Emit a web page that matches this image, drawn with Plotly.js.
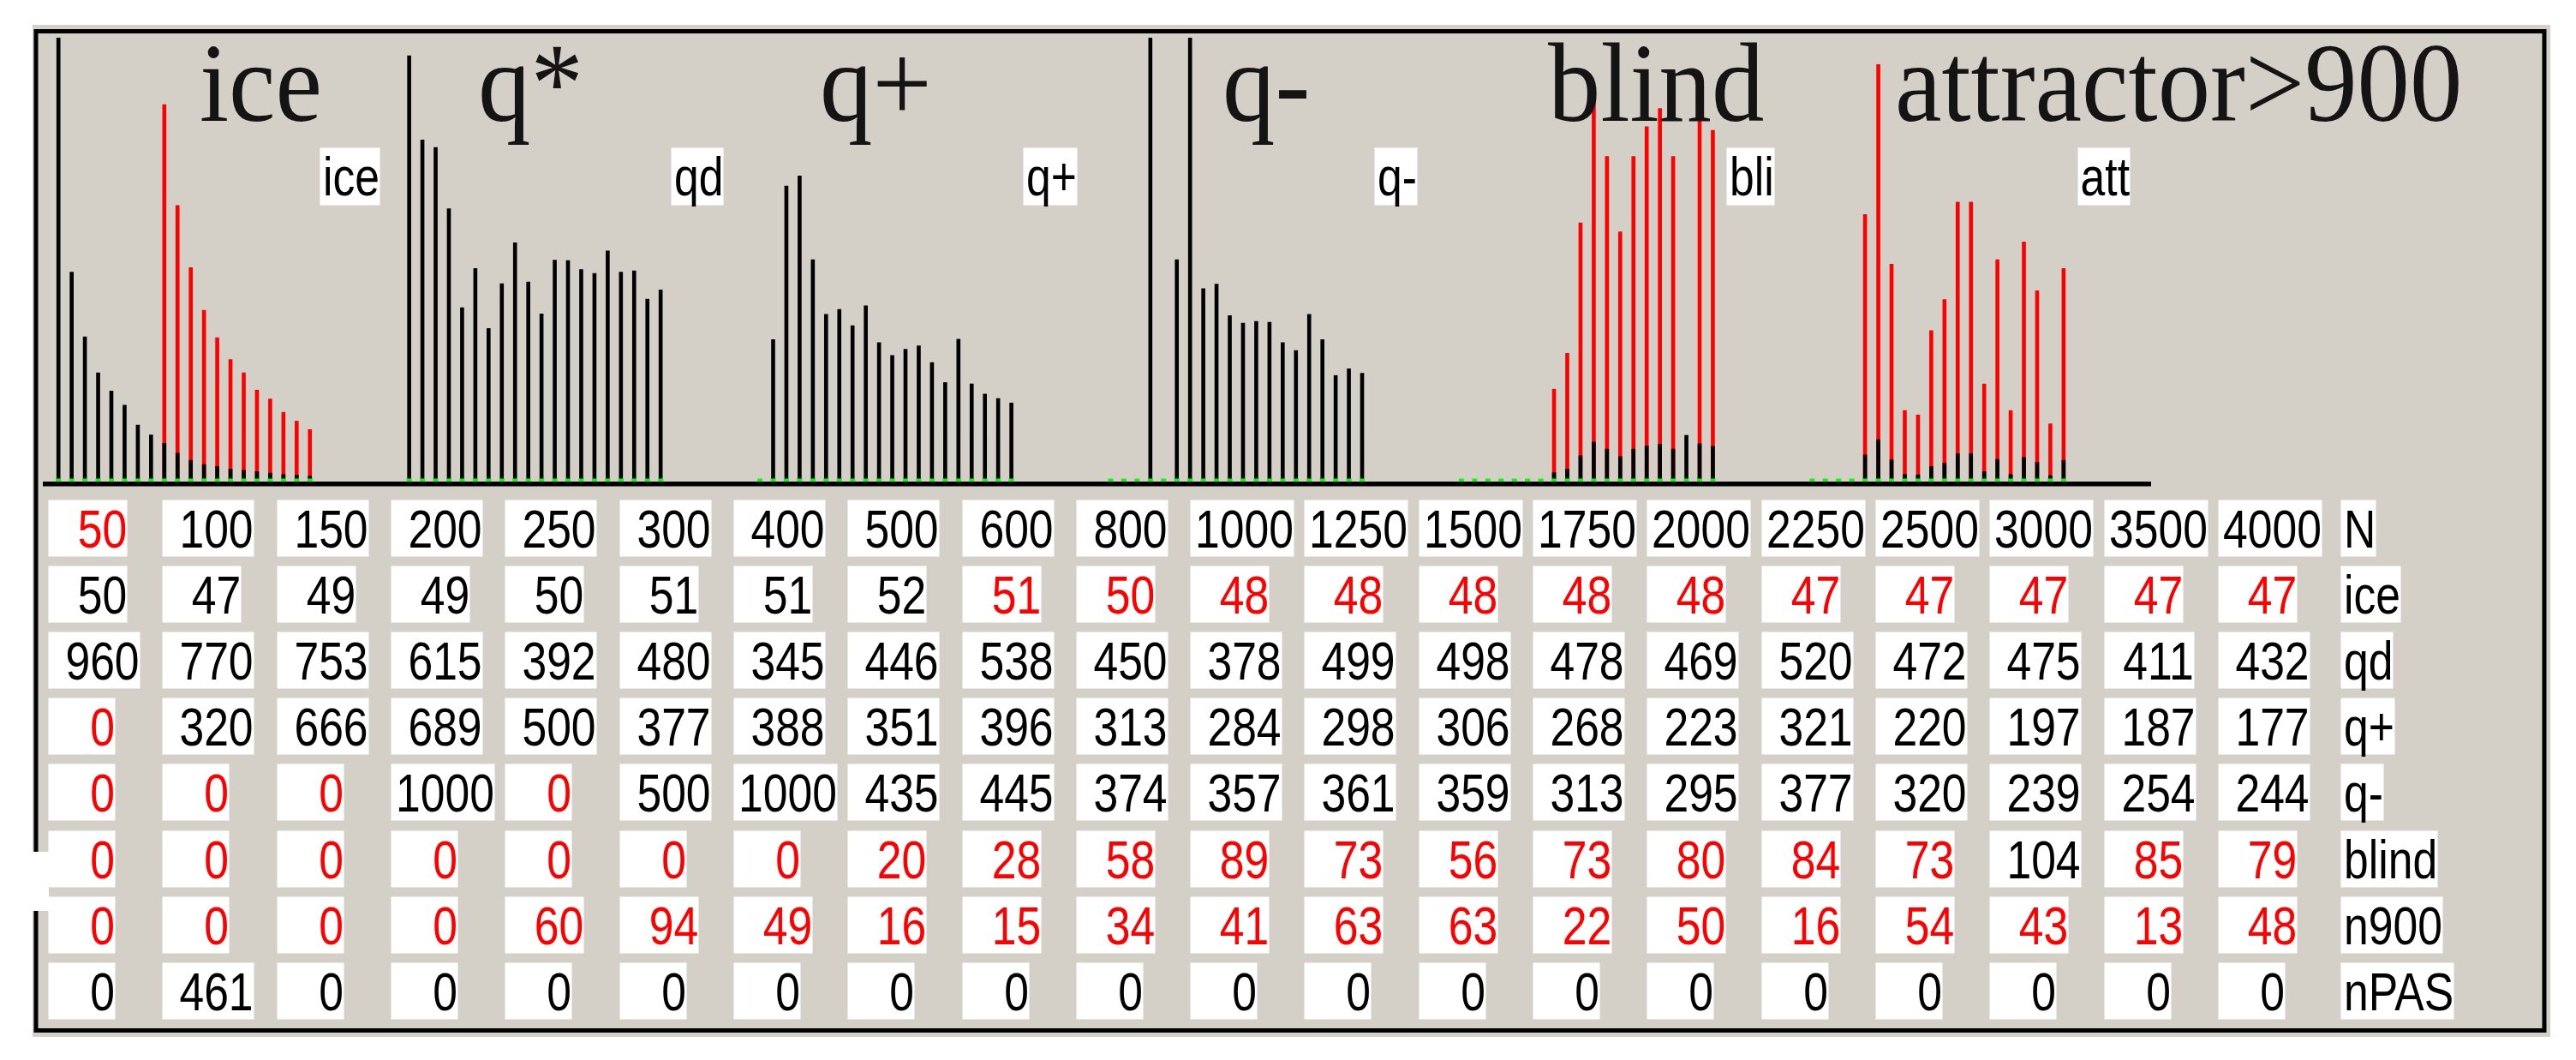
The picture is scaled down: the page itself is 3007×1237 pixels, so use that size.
<!DOCTYPE html>
<html>
<head>
<meta charset="utf-8">
<script src="https://cdn.plot.ly/plotly-3.0.1.min.js"></script>
<style>
  html, body { margin: 0; padding: 0; background: #fff; }
  #chart { width: 3007px; height: 1237px; }
</style>
</head>
<body>
<div id="chart"></div>
<script>
// table values, one array per row
var N      = [50, 100, 150, 200, 250, 300, 400, 500, 600, 800, 1000, 1250, 1500, 1750, 2000, 2250, 2500, 3000, 3500, 4000];
var ice    = [50, 47, 49, 49, 50, 51, 51, 52, 51, 50, 48, 48, 48, 48, 48, 47, 47, 47, 47, 47];
var qd     = [960, 770, 753, 615, 392, 480, 345, 446, 538, 450, 378, 499, 498, 478, 469, 520, 472, 475, 411, 432];
var qPlus  = [0, 320, 666, 689, 500, 377, 388, 351, 396, 313, 284, 298, 306, 268, 223, 321, 220, 197, 187, 177];
var qMinus = [0, 0, 0, 1000, 0, 500, 1000, 435, 445, 374, 357, 361, 359, 313, 295, 377, 320, 239, 254, 244];
var blind  = [0, 0, 0, 0, 0, 0, 0, 20, 28, 58, 89, 73, 56, 73, 80, 84, 73, 104, 85, 79];
var n900   = [0, 0, 0, 0, 60, 94, 49, 16, 15, 34, 41, 63, 63, 22, 50, 16, 54, 43, 13, 48];
var nPAS   = [0, 461, 0, 0, 0, 0, 0, 0, 0, 0, 0, 0, 0, 0, 0, 0, 0, 0, 0, 0];

// cells printed in red (1 = red)
var hiN      = "10000000000000000000";
var hiIce    = "00000000111111111111";
var hiQd     = "00000000000000000000";
var hiQPlus  = "10000000000000000000";
var hiQMinus = "11101000000000000000";
var hiBlind  = "11111111111111111011";
var hiN900   = "11111111111111111111";
var hiNPAS   = "00000000000000000000";

// bar heights (0..1000), red = magnified x10 part
var iceBar  = [1000, 472, 326, 245, 204, 172, 127, 105, 86, 64, 48, 38, 34, 28, 25, 22, 19, 16, 14, 12];
var iceRed  = [null, null, null, null, null, null, null, null, 850, 622, 482, 386, 324, 275, 245, 206, 186, 156, 136, 117];
var blindRed = [null, null, null, null, null, null, null, 208, 289, 583, 880, 733, 563, 733, 800, 841, 733, null, 850, 792];
var n900Red  = [null, null, null, null, 602, 940, 490, 160, 150, 340, 410, 630, 630, 220, 500, 160, 540, 430, 130, 480];

var groupTitles = ["ice", "q*", "q+", "q-", "blind", "attractor>900"];
var groupTags   = ["ice", "qd", "q+", "q-", "bli", "att"];
var groupBlack  = [iceBar, qd, qPlus, qMinus, blind, n900];
var groupRed    = [iceRed, null, null, null, blindRed, n900Red];

var W = 3007, H = 1237;
var PITCH = 26.5;    // slots from one group to the next
var NARROW = 0.82;   // squeeze of the sans text (no narrow font installed)
var TITLE_SQUEEZE = 0.93;
var px = function (x) { return x / W; };
var py = function (y) { return 1 - y / H; };

var xs = [], blackY = [], redX = [], redY = [];
groupBlack.forEach(function (vals, g) {
  vals.forEach(function (v, i) {
    var x = g * PITCH + i;
    xs.push(x);
    blackY.push(v);
    if (groupRed[g] && groupRed[g][i] != null) {
      redX.push(x);
      redY.push(groupRed[g][i]);
    }
  });
});

var traces = [
  { type: "bar", x: redX, y: redY, width: 0.3, marker: { color: "#ff0000", line: { width: 0 } }, hoverinfo: "skip" },
  { type: "bar", x: xs, y: blackY, width: 0.3, marker: { color: "#000000", line: { width: 0 } }, hoverinfo: "skip" },
  { type: "scatter", mode: "markers", x: xs, y: xs.map(function () { return 0; }), cliponaxis: false,
    marker: { symbol: "square", size: 6, color: "#00ff00", line: { width: 0 } }, hoverinfo: "skip" }
];

// text widths, for the white boxes
var cellFont = "Liberation Sans, Arial, sans-serif";
var ctx = document.createElement("canvas").getContext("2d");
ctx.font = "63px 'Liberation Sans'";
var textW = function (s) { return ctx.measureText(s).width * NARROW; };

var annotations = [];

// big group titles
var titleLeft = [236, 561, 960, 1430, 1810, 2215];
groupTitles.forEach(function (t, g) {
  annotations.push({
    xref: "paper", yref: "paper", x: px(titleLeft[g] - 4), y: py(171), xanchor: "left", yanchor: "bottom",
    text: t, showarrow: false, borderpad: 0,
    font: { family: "Liberation Serif, Times New Roman, serif", size: 132, color: "#141414" }
  });
});

// small tags in white boxes
groupTags.forEach(function (t, g) {
  annotations.push({
    xref: "paper", yref: "paper", x: px(373 + g * 410.4), y: py(206), xanchor: "left", yanchor: "middle",
    text: t, showarrow: false, borderpad: 0, width: textW(t) + 3, height: 66,
    align: "right", valign: "middle", bgcolor: "#ffffff",
    font: { family: cellFont, size: 63, color: "#000000" }
  });
});

// table
var rows = [
  ["N", N, hiN], ["ice", ice, hiIce], ["qd", qd, hiQd], ["q+", qPlus, hiQPlus],
  ["q-", qMinus, hiQMinus], ["blind", blind, hiBlind], ["n900", n900, hiN900], ["nPAS", nPAS, hiNPAS]
];
rows.forEach(function (row, r) {
  var cy = 616.5 + r * 77.1;
  row[1].forEach(function (v, c) {
    var s = String(v);
    var cx = 118.6 + c * 133.3;
    annotations.push({
      xref: "paper", yref: "paper", x: px(cx - 62.5), y: py(cy), xanchor: "left", yanchor: "middle",
      text: s, showarrow: false, borderpad: 0, width: 62.5 + textW(s) / 2, height: 65,
      align: "right", valign: "middle", bgcolor: "#ffffff",
      font: { family: cellFont, size: 63, color: row[2][c] === "1" ? "#ff0000" : "#000000" }
    });
  });
  annotations.push({
    xref: "paper", yref: "paper", x: px(2732), y: py(cy), xanchor: "left", yanchor: "middle",
    text: row[0], showarrow: false, borderpad: 0, width: textW(row[0]) + 3, height: 65,
    align: "right", valign: "middle", bgcolor: "#ffffff",
    font: { family: cellFont, size: 63, color: "#000000" }
  });
});

var shapes = [
  { type: "rect", xref: "paper", yref: "paper", x0: px(38), x1: px(2977), y0: py(29), y1: py(1210),
    fillcolor: "#d4d0c8", line: { width: 0 }, layer: "below" },
  { type: "rect", xref: "paper", yref: "paper", x0: px(42), x1: px(2970), y0: py(36.5), y1: py(1202.5),
    line: { color: "#000000", width: 5 }, layer: "below" },
  { type: "rect", xref: "paper", yref: "paper", x0: px(34), x1: px(57), y0: py(994), y1: py(1063),
    fillcolor: "#ffffff", line: { width: 0 }, layer: "above" },
  { type: "rect", xref: "paper", yref: "paper", x0: px(50), x1: px(2511), y0: py(562), y1: py(567.5),
    fillcolor: "#000000", line: { width: 0 }, layer: "above" }
];

var layout = {
  width: W, height: H,
  margin: { l: 0, r: 0, t: 0, b: 0 },
  paper_bgcolor: "#ffffff",
  plot_bgcolor: "rgba(0,0,0,0)",
  showlegend: false,
  barmode: "overlay",
  xaxis: { domain: [px(52.75), px(68.2 + 160 * 15.45)], range: [-1, 160], visible: false, fixedrange: true },
  yaxis: { domain: [py(561.5), py(44)], range: [0, 1000], visible: false, fixedrange: true },
  shapes: shapes,
  annotations: annotations
};

Plotly.newPlot("chart", traces, layout, { staticPlot: true, displayModeBar: false }).then(function () {
  // squeeze text sideways: titles about their left edge, sans labels about their right edge
  document.querySelectorAll("g.annotation").forEach(function (g) {
    var isTitle = +g.getAttribute("data-index") < groupTitles.length;
    var t = g.querySelector("text.annotation-text");
    if (!t) return;
    t.removeAttribute("clip-path");
    var bb = t.getBBox();
    var ax = isTitle ? bb.x : bb.x + bb.width;
    var k = isTitle ? TITLE_SQUEEZE : NARROW;
    t.setAttribute("transform", "translate(" + ax + ",0) scale(" + k + ",1) translate(" + (-ax) + ",0)");
  });
});
</script>
</body>
</html>
